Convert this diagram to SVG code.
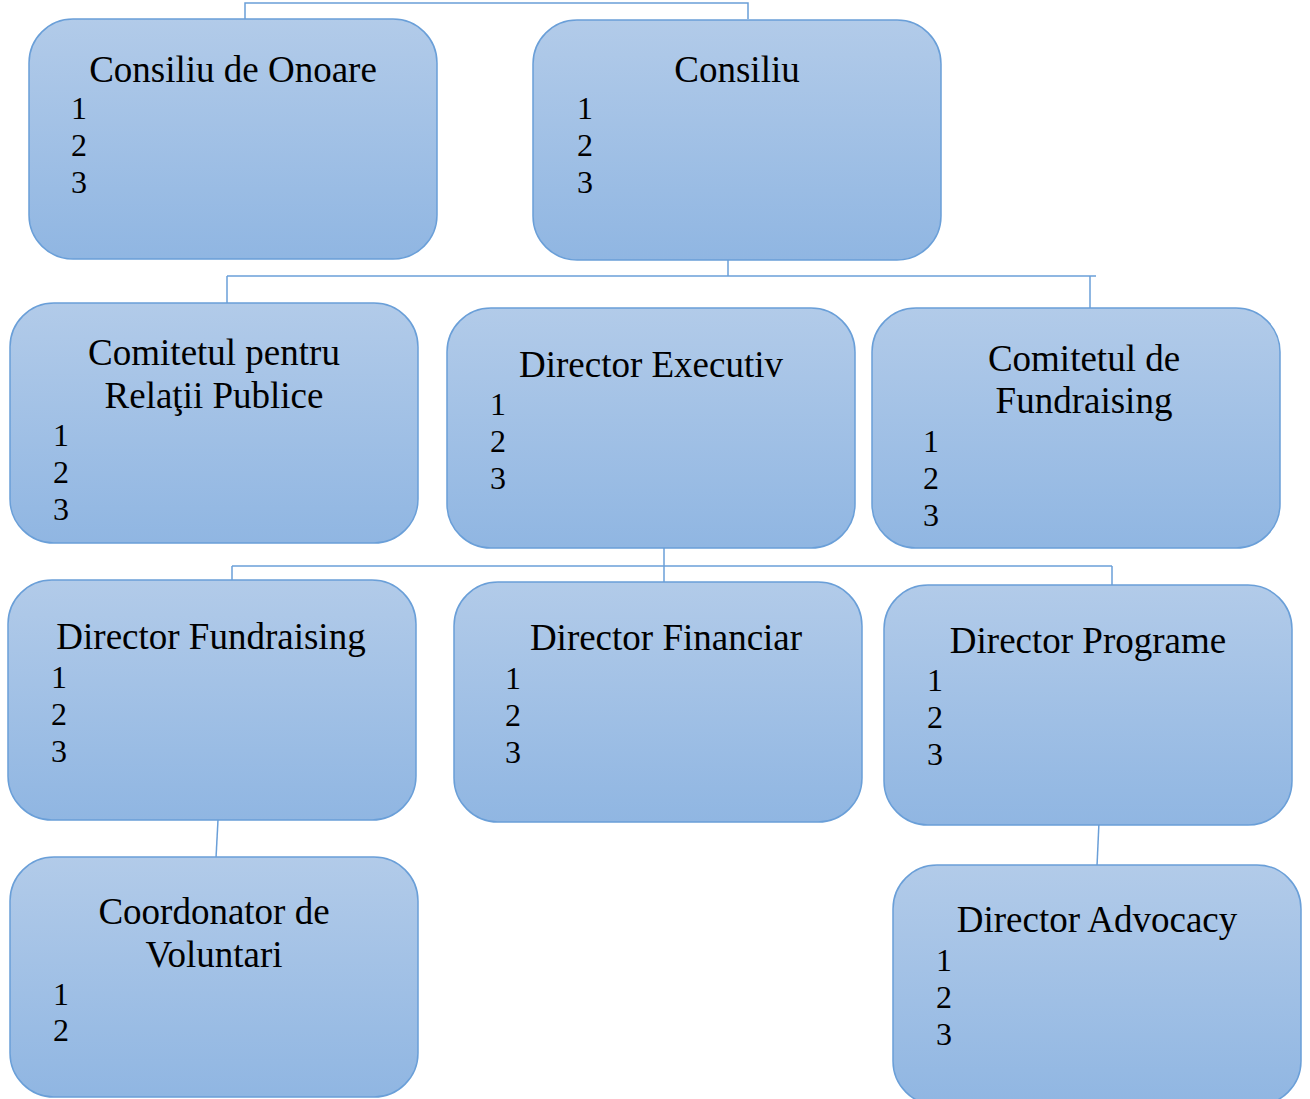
<svg xmlns="http://www.w3.org/2000/svg" width="1310" height="1099" viewBox="0 0 1310 1099">
<defs>
<linearGradient id="g" x1="0" y1="0" x2="0" y2="1">
<stop offset="0" stop-color="#b2cbe9"/>
<stop offset="1" stop-color="#90b6e2"/>
</linearGradient>
</defs>
<style>
.box{fill:url(#g);stroke:#6a9fd8;stroke-width:1.5}
.t{font-family:"Liberation Serif","Times New Roman",serif;font-size:37px;fill:#000;text-anchor:middle}
.n{font-family:"Liberation Serif","Times New Roman",serif;font-size:32px;fill:#000}
.c{fill:none;stroke:#6a9fd8;stroke-width:1.5}
</style>
<rect width="1310" height="1099" fill="#fff"/>
<g id="connectors">
<polyline class="c" points="245,20 245,3 748,3 748,19"/>
<line class="c" x1="728" y1="260" x2="728" y2="276"/>
<line class="c" x1="227" y1="276" x2="1096" y2="276"/>
<line class="c" x1="227" y1="276" x2="227" y2="303"/>
<line class="c" x1="1090" y1="276" x2="1090" y2="308"/>
<line class="c" x1="664" y1="548" x2="664" y2="582"/>
<line class="c" x1="232" y1="566" x2="1112" y2="566"/>
<line class="c" x1="232" y1="566" x2="232" y2="580"/>
<line class="c" x1="1112" y1="566" x2="1112" y2="585"/>
<line class="c" x1="218" y1="820" x2="216" y2="858"/>
<line class="c" x1="1099" y1="822" x2="1097" y2="866"/>
</g>
<g id="consiliu-onoare">
<rect class="box" x="29" y="19" width="408" height="240" rx="44"/>
<text class="t" x="233" y="82">Consiliu de Onoare</text>
<text class="n" x="71" y="119">1</text>
<text class="n" x="71" y="156">2</text>
<text class="n" x="71" y="193">3</text>
</g>
<g id="consiliu">
<rect class="box" x="533" y="20" width="408" height="240" rx="44"/>
<text class="t" x="737" y="82">Consiliu</text>
<text class="n" x="577" y="119">1</text>
<text class="n" x="577" y="156">2</text>
<text class="n" x="577" y="193">3</text>
</g>
<g id="comitetul-relatii">
<rect class="box" x="10" y="303" width="408" height="240" rx="44"/>
<text class="t" x="214" y="365">Comitetul pentru</text>
<text class="t" x="214" y="408">Relaţii Publice</text>
<text class="n" x="53" y="446">1</text>
<text class="n" x="53" y="483">2</text>
<text class="n" x="53" y="520">3</text>
</g>
<g id="director-executiv">
<rect class="box" x="447" y="308" width="408" height="240" rx="44"/>
<text class="t" x="651" y="377">Director Executiv</text>
<text class="n" x="490" y="415">1</text>
<text class="n" x="490" y="452">2</text>
<text class="n" x="490" y="489">3</text>
</g>
<g id="comitetul-fundraising">
<rect class="box" x="872" y="308" width="408" height="240" rx="44"/>
<text class="t" x="1084" y="371">Comitetul de</text>
<text class="t" x="1084" y="413">Fundraising</text>
<text class="n" x="923" y="452">1</text>
<text class="n" x="923" y="489">2</text>
<text class="n" x="923" y="526">3</text>
</g>
<g id="director-fundraising">
<rect class="box" x="8" y="580" width="408" height="240" rx="44"/>
<text class="t" x="211" y="649">Director Fundraising</text>
<text class="n" x="51" y="688">1</text>
<text class="n" x="51" y="725">2</text>
<text class="n" x="51" y="762">3</text>
</g>
<g id="director-financiar">
<rect class="box" x="454" y="582" width="408" height="240" rx="44"/>
<text class="t" x="666" y="650">Director Financiar</text>
<text class="n" x="505" y="689">1</text>
<text class="n" x="505" y="726">2</text>
<text class="n" x="505" y="763">3</text>
</g>
<g id="director-programe">
<rect class="box" x="884" y="585" width="408" height="240" rx="44"/>
<text class="t" x="1088" y="653">Director Programe</text>
<text class="n" x="927" y="691">1</text>
<text class="n" x="927" y="728">2</text>
<text class="n" x="927" y="765">3</text>
</g>
<g id="coordonator-voluntari">
<rect class="box" x="10" y="857" width="408" height="240" rx="44"/>
<text class="t" x="214" y="924">Coordonator de</text>
<text class="t" x="214" y="967">Voluntari</text>
<text class="n" x="53" y="1005">1</text>
<text class="n" x="53" y="1041">2</text>
</g>
<g id="director-advocacy">
<rect class="box" x="893" y="865" width="408" height="240" rx="44"/>
<text class="t" x="1097" y="932">Director Advocacy</text>
<text class="n" x="936" y="971">1</text>
<text class="n" x="936" y="1008">2</text>
<text class="n" x="936" y="1045">3</text>
</g>
</svg>
